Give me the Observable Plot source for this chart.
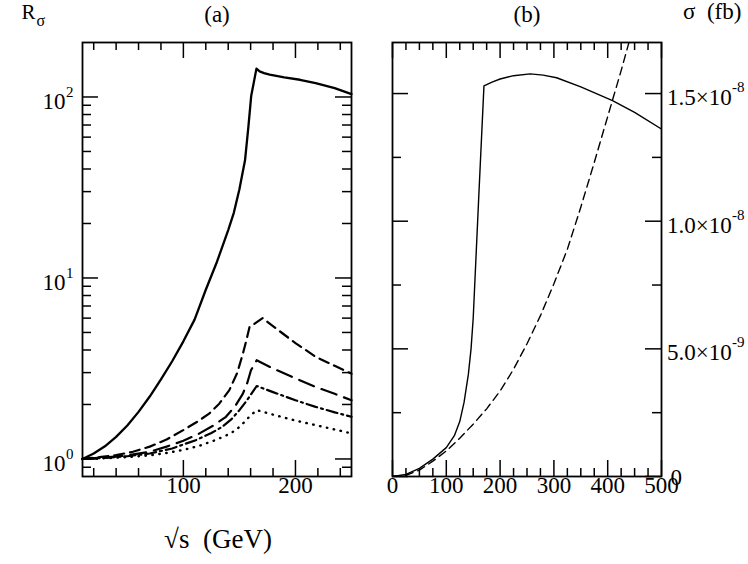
<!DOCTYPE html>
<html>
<head>
<meta charset="utf-8">
<script src="https://cdn.jsdelivr.net/npm/d3@7"></script>
<script src="https://cdn.jsdelivr.net/npm/@observablehq/plot@0.6"></script>
<style>
html, body { margin: 0; padding: 0; background: #fff; }
#chart { position: relative; width: 748px; height: 564px; overflow: hidden; background: #fff; }
#chart svg { position: absolute; top: 0; overflow: visible; }
#chart svg, #chart svg text { font-family: "Liberation Serif", "DejaVu Serif", serif !important; }
</style>
</head>
<body>
<div id="chart"></div>
<script>
// ---------- Panel (a): R_sigma vs sqrt(s) ----------
const xMajorA = [100, 200];
const xMinorA = [20, 40, 60, 80, 120, 140, 160, 180, 220, 240];
const yMajorA = [1, 10, 100];
const yExpA = ["0", "1", "2"];
const yMinorA = [0.9, 2, 3, 4, 5, 6, 7, 8, 9, 20, 30, 40, 50, 60, 70, 80, 90];

const solidA_x = [10, 20, 30, 40, 50, 60, 70, 80, 90, 100, 110, 120, 130, 140, 145, 150, 155, 158, 160.5, 165.2, 168, 172, 177, 190, 204, 218, 235, 250];
const solidA_y = [1.0, 1.072, 1.175, 1.324, 1.531, 1.82, 2.213, 2.754, 3.467, 4.467, 5.888, 8.61, 12.3, 18.4, 22.9, 30.9, 44.7, 68.4, 101.2, 143.5, 138.5, 135.5, 133, 128.5, 124.5, 119.3, 112, 103.7];

const dashA_x = [10, 25, 40, 55, 70, 85, 100, 112, 123, 132, 141, 148, 153, 156, 159, 170.7, 185, 200, 218, 235, 250];
const dashA_y = [1.0, 1.023, 1.05, 1.096, 1.17, 1.28, 1.445, 1.6, 1.78, 2.02, 2.4, 2.985, 3.8, 4.47, 5.35, 6.0, 5.13, 4.37, 3.67, 3.27, 2.96];

const longA_x = [10, 30, 50, 70, 85, 100, 114, 126, 138, 146, 153, 157, 160.3, 165.4, 180, 200, 218, 235, 250];
const longA_y = [1.0, 1.019, 1.047, 1.096, 1.17, 1.26, 1.38, 1.52, 1.71, 1.95, 2.29, 2.63, 3.09, 3.51, 3.16, 2.79, 2.5, 2.29, 2.11];

const dotdashA_x = [10, 30, 50, 70, 90, 111, 125, 135, 143, 150, 155, 158.8, 165.4, 180, 200, 218, 235, 250];
const dotdashA_y = [1.0, 1.014, 1.035, 1.072, 1.143, 1.27, 1.39, 1.51, 1.66, 1.86, 2.04, 2.2, 2.53, 2.34, 2.11, 1.94, 1.81, 1.71];

const dotA_x = [10, 30, 50, 70, 85, 100, 115, 129, 140, 147, 153, 158.8, 165.4, 180, 200, 218, 235, 250];
const dotA_y = [1.0, 1.009, 1.023, 1.047, 1.079, 1.122, 1.186, 1.274, 1.365, 1.445, 1.567, 1.71, 1.862, 1.758, 1.63, 1.538, 1.455, 1.384];

// ---------- Panel (b): sigma (fb) vs sqrt(s) ----------
const xMajorB = [0, 100, 200, 300, 400, 500];
const xMinorB = [25, 50, 75, 125, 150, 175, 225, 250, 275, 325, 350, 375, 425, 450, 475];
const yMajorB = [0, 5e-9, 1e-8, 1.5e-8];
const yMinorB = [2.5e-9, 7.5e-9, 1.25e-8];
const yLabB = [5e-9, 1e-8, 1.5e-8];
const yMantB = ["5.0", "1.0", "1.5"];
const yExpB = ["-9", "-8", "-8"];

const solidB_x = [0, 25, 50, 75, 100, 115, 125, 133, 141, 146, 150, 160, 170, 185, 200, 225, 256, 280, 305, 350, 409, 450, 500];
const solidB_y = [0, 0.08e-9, 0.32e-9, 0.68e-9, 1.13e-9, 1.6e-9, 2.15e-9, 2.9e-9, 4.0e-9, 5.0e-9, 6.2e-9, 10.8e-9, 15.3e-9, 15.45e-9, 15.57e-9, 15.7e-9, 15.77e-9, 15.72e-9, 15.62e-9, 15.26e-9, 14.72e-9, 14.26e-9, 13.61e-9];

const dashB_x = [0, 25, 50, 75, 100, 125, 150, 175, 200, 225, 250, 275, 300, 325, 350, 375, 400, 425, 450];
const dashB_y = [0, 0.05e-9, 0.25e-9, 0.6e-9, 1.0e-9, 1.5e-9, 2.05e-9, 2.65e-9, 3.35e-9, 4.2e-9, 5.2e-9, 6.3e-9, 7.55e-9, 8.9e-9, 10.55e-9, 12.3e-9, 14.1e-9, 15.9e-9, 17.8e-9];

// ---------- helpers ----------
const FONT = "Liberation Serif";
const FW = 269, FH = 434; // frame size in pixels (both panels)
const rows = (xs, ys) => xs.map((x, i) => ({x, y: ys[i]}));
function ticksX(data, len) {
  return [
    Plot.ruleX(data, {x: d => d, insetTop: FH - len, stroke: "black", strokeWidth: 1.5}),
    Plot.ruleX(data, {x: d => d, insetBottom: FH - len, stroke: "black", strokeWidth: 1.5})
  ];
}
function ticksY(data, len) {
  return [
    Plot.ruleY(data, {y: d => d, insetRight: FW - len, stroke: "black", strokeWidth: 1.5}),
    Plot.ruleY(data, {y: d => d, insetLeft: FW - len, stroke: "black", strokeWidth: 1.5})
  ];
}
const baseStyle = {fontFamily: FONT, fontSize: "23px", color: "black", background: "transparent", overflow: "visible"};

const plotA = Plot.plot({
  width: 370, height: 564,
  marginLeft: 82, marginRight: 19, marginTop: 42, marginBottom: 88,
  x: {domain: [10, 250], axis: null},
  y: {type: "log", domain: [0.8, 200], axis: null},
  style: baseStyle,
  marks: [
    ...ticksX(xMajorA, 16), ...ticksX(xMinorA, 8),
    ...ticksY(yMajorA, 16), ...ticksY(yMinorA, 9),
    Plot.line(rows(solidA_x, solidA_y), {x: "x", y: "y", stroke: "black", strokeWidth: 2.3}),
    Plot.line(rows(dashA_x, dashA_y), {x: "x", y: "y", stroke: "black", strokeWidth: 2.2, strokeDasharray: "10,6"}),
    Plot.line(rows(longA_x, longA_y), {x: "x", y: "y", stroke: "black", strokeWidth: 2.2, strokeDasharray: "16,8"}),
    Plot.line(rows(dotdashA_x, dotdashA_y), {x: "x", y: "y", stroke: "black", strokeWidth: 2.2, strokeDasharray: "11,4,2,4"}),
    Plot.line(rows(dotA_x, dotA_y), {x: "x", y: "y", stroke: "black", strokeWidth: 2.4, strokeDasharray: "0.5,6.5", strokeLinecap: "round"}),
    Plot.frame({stroke: "black", strokeWidth: 1.8}),
    Plot.text(xMajorA, {x: d => d, text: d => String(d), frameAnchor: "bottom", dy: 16.5, fontFamily: FONT}),
    Plot.text(yMajorA, {y: d => d, text: () => "10", frameAnchor: "left", textAnchor: "end", dx: -17, dy: 5, fontFamily: FONT}),
    Plot.text(yMajorA, {y: d => d, text: (d, i) => yExpA[i], frameAnchor: "left", textAnchor: "start", dx: -16.5, dy: -5, fontSize: 15, fontFamily: FONT}),
    Plot.text(["(a)"], {text: d => d, frameAnchor: "top", lineAnchor: "bottom", dy: -20.5, fontFamily: FONT}),
    Plot.text(["\u221As\u00a0 (GeV)"], {text: d => d, frameAnchor: "bottom", lineAnchor: "bottom", dx: 1, dy: 71, fontSize: 27, fontFamily: FONT}),
    Plot.text(["R"], {text: d => d, frameAnchor: "top-left", textAnchor: "start", lineAnchor: "bottom", dx: -61, dy: -24, fontSize: 21, fontFamily: FONT}),
    Plot.text(["\u03c3"], {text: d => d, frameAnchor: "top-left", textAnchor: "start", lineAnchor: "bottom", dx: -46, dy: -17, fontSize: 16, fontFamily: FONT})
  ]
});

const plotB = Plot.plot({
  width: 378, height: 564,
  marginLeft: 22, marginRight: 87, marginTop: 42, marginBottom: 88,
  x: {domain: [0, 500], axis: null},
  y: {domain: [0, 1.7e-8], axis: null},
  style: baseStyle,
  marks: [
    ...ticksX(xMajorB, 16), ...ticksX(xMinorB, 8),
    ...ticksY(yMajorB, 16), ...ticksY(yMinorB, 9),
    Plot.line(rows(solidB_x, solidB_y), {x: "x", y: "y", stroke: "black", strokeWidth: 1.4, clip: true}),
    Plot.line(rows(dashB_x, dashB_y), {x: "x", y: "y", stroke: "black", strokeWidth: 1.4, strokeDasharray: "8,5", clip: true}),
    Plot.frame({stroke: "black", strokeWidth: 1.8}),
    Plot.text(xMajorB, {x: d => d, text: d => String(d), frameAnchor: "bottom", dy: 16.5, fontFamily: FONT}),
    Plot.text(yLabB, {y: d => d, text: (d, i) => yMantB[i] + "\u00d710", frameAnchor: "right", textAnchor: "start", dx: 5.5, dy: 4, fontFamily: FONT}),
    Plot.text(yLabB, {y: d => d, text: (d, i) => yExpB[i], frameAnchor: "right", textAnchor: "start", dx: 70.5, dy: -6.5, fontSize: 15, fontFamily: FONT}),
    Plot.text([0], {y: d => d, text: () => "0", frameAnchor: "right", textAnchor: "start", dx: 9, dy: 1, fontFamily: FONT}),
    Plot.text(["(b)"], {text: d => d, frameAnchor: "top", lineAnchor: "bottom", dy: -20.5, fontFamily: FONT}),
    Plot.text(["\u03c3\u00a0 (fb)"], {text: d => d, frameAnchor: "top-right", textAnchor: "start", lineAnchor: "bottom", dx: 21.5, dy: -23.5, fontFamily: FONT})
  ]
});

const chart = document.getElementById("chart");
plotA.style.left = "0px";
plotB.style.left = "370px";
chart.appendChild(plotA);
chart.appendChild(plotB);
</script>
</body>
</html>
